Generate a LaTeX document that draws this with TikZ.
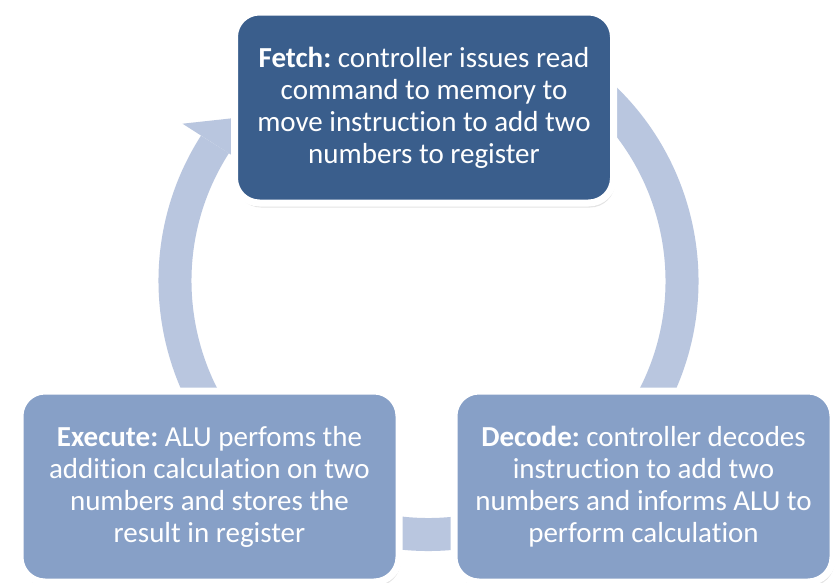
\documentclass[tikz,border=0pt]{standalone}
\usepackage{fontspec}
\setmainfont[Ligatures=NoCommon]{Carlito}
\usetikzlibrary{shadows}
\definecolor{darkblue}{RGB}{58,94,140}
\definecolor{lightblue}{RGB}{135,160,199}
\definecolor{ringblue}{RGB}{185,198,223}
\frenchspacing
\begin{document}
\begin{tikzpicture}[x=1pt,y=1pt,
  box/.style={rectangle, rounded corners=25pt, draw=white, line width=7pt,
    minimum width=379pt, minimum height=191pt, inner sep=0pt, text=white,
    align=center, font=\fontsize{29}{32}\selectfont,
    drop shadow={opacity=0.22, shadow xshift=1.5pt, shadow yshift=-4.5pt}},
  fetchbox/.style={box, fill=darkblue},
  cyclebox/.style={box, fill=lightblue},
  ringband/.style={draw=ringblue, line width=33pt},
  ringhead/.style={fill=ringblue}]
\fill[white] (0,0) rectangle (836,-582);
\useasboundingbox (0,0) rectangle (836,-582);
\coordinate (c) at (428.5,-281);
% cycle ring with its arrowhead
\draw[ringband] ([shift={(c)}]147.4:253.5) arc[start angle=147.4, end angle=460, radius=253.5];
\fill[ringhead] ([shift={(c)}]147.4:292) -- ([shift={(c)}]140:253.5) -- ([shift={(c)}]147.4:215) -- cycle;
% boxes
\node[fetchbox] (fetch) at (424,-107.5) {\textbf{Fetch:} controller issues read\\command to memory to\\move instruction to add two\\numbers to register};
\node[cyclebox] (execute) at (209.5,-486.5) {\textbf{Execute:} ALU perfoms the\\addition calculation on two\\numbers and stores the\\result in register};
\node[cyclebox] (decode) at (643.5,-486.5) {\textbf{Decode:} controller decodes\\instruction to add two\\numbers and informs ALU to\\perform calculation};
\end{tikzpicture}
\end{document}
